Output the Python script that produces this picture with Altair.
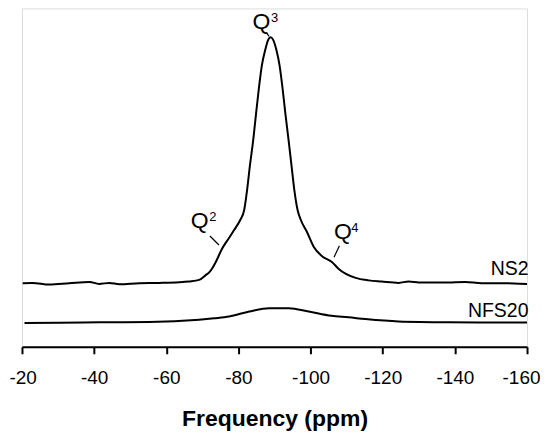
import altair as alt
import pandas as pd

FONT = "Liberation Sans"

# NS2 spectrum (offset trace)
ns2_ppm = [-20.2, -22.9, -27.6, -33.1, -38.7, -41.4, -44.2, -47.0, -52.5, -58.0,
           -63.6, -66.3, -69.1, -71.0, -71.9, -72.8, -73.8, -75.5, -77.4, -78.8,
           -80.5, -81.6, -82.4, -83.2, -84.1, -84.9, -85.7, -86.5, -87.4, -88.2,
           -88.95, -89.7, -90.55, -91.4, -92.2, -93.0, -93.9, -94.7, -95.5, -96.4,
           -97.3, -99.0, -100.9, -103.1, -105.9, -107.8, -112.5, -116.1, -119.7, -124.4,
           -127.2, -130.0, -133.6, -138.3, -142.9, -147.4, -152.1, -156.3, -160.0]
ns2_int = [63.7, 64.0, 62.3, 63.7, 65.0, 63.0, 64.0, 62.7, 63.7, 64.0,
           64.7, 65.5, 67.0, 72.0, 74.5, 79.0, 85.5, 98.5, 109.0, 117.0,
           127.0, 137.0, 157.0, 182.0, 207.0, 234.0, 260.0, 282.0, 297.0, 307.0,
           310.0, 307.0, 297.0, 282.0, 260.0, 234.0, 207.0, 182.0, 157.0, 137.0,
           127.0, 115.0, 100.0, 91.0, 85.0, 78.0, 69.0, 66.5, 65.3, 64.0,
           65.5, 64.5, 64.3, 64.5, 65.0, 63.7, 63.7, 63.5, 63.0]

# NFS20 spectrum
nfs_ppm = [-20.7, -30.4, -41.4, -55.3, -69.1, -73.3, -77.4, -83.0, -88.5, -94.0,
           -99.5, -105.8, -110.5, -115.2, -124.4, -138.3, -152.1, -160.0]
nfs_int = [23.7, 24.0, 24.5, 24.7, 27.0, 28.5, 30.3, 35.3, 38.7, 38.7,
           35.3, 31.0, 29.5, 27.7, 25.3, 24.5, 24.3, 24.3]

x_ticks = [-20, -40, -60, -80, -100, -120, -140, -160]

# Series labels
series_names = ["NS2", "NFS20"]
series_label_ppm = [-160.4, -160.4]
series_label_int = [72.0, 30.3]

# Q annotations
q_letters = ["Q", "Q", "Q"]
q_ppm = [-83.9, -66.8, -106.5]
q_int = [318.0, 119.0, 108.0]
q_sup = ["3", "2", "4"]
q_sup_ppm = [-89.0, -71.9, -111.3]
q_sup_int = [325.5, 125.5, 115.0]
lead_x1 = [-87.7, -72.1, -108.0]
lead_x2 = [-88.5, -74.6, -106.5]
lead_y1 = [315.0, 111.0, 101.3]
lead_y2 = [311.0, 102.0, 89.7]

spec = pd.concat([
    pd.DataFrame({"ppm": ns2_ppm, "intensity": ns2_int, "series": "NS2"}),
    pd.DataFrame({"ppm": nfs_ppm, "intensity": nfs_int, "series": "NFS20"}),
])
labels = pd.DataFrame({"name": series_names, "ppm": series_label_ppm, "intensity": series_label_int})
qdf = pd.DataFrame({"q": q_letters, "ppm": q_ppm, "intensity": q_int,
                    "sup": q_sup, "sppm": q_sup_ppm, "sint": q_sup_int,
                    "x1": lead_x1, "x2": lead_x2, "y1": lead_y1, "y2": lead_y2})

xscale = alt.Scale(domain=[-160, -20], reverse=True, nice=False)
yscale = alt.Scale(domain=[0, 339], nice=False)

lines = alt.Chart(spec).mark_line(color="black", strokeWidth=2, interpolate="monotone", clip=True).encode(
    x=alt.X("ppm:Q", scale=xscale, title="Frequency (ppm)",
            axis=alt.Axis(values=x_ticks, grid=False, domainColor="black", domainWidth=2,
                          tickColor="black", tickWidth=2, tickSize=7, labelFont=FONT,
                          labelFontSize=19, labelColor="black", labelPadding=15,
                          labelExpr="replace(datum.label, '\u2212', '-')",
                          labelFlush=True, labelFlushOffset=13,
                          titleFont=FONT, titleFontSize=23, titleFontWeight="bold",
                          titleColor="black", titlePadding=20)),
    y=alt.Y("intensity:Q", scale=yscale, axis=None),
    detail="series:N",
)

name_text = alt.Chart(labels).mark_text(align="right", baseline="alphabetic", font=FONT,
                                        fontSize=19.5, color="black").encode(
    x=alt.X("ppm:Q", scale=xscale), y=alt.Y("intensity:Q", scale=yscale), text="name:N")

q_text = alt.Chart(qdf).mark_text(align="left", baseline="alphabetic", font=FONT,
                                  fontSize=23, color="black").encode(
    x=alt.X("ppm:Q", scale=xscale), y=alt.Y("intensity:Q", scale=yscale), text="q:N")

sup_text = alt.Chart(qdf).mark_text(align="left", baseline="alphabetic", font=FONT,
                                    fontSize=13, color="black").encode(
    x=alt.X("sppm:Q", scale=xscale), y=alt.Y("sint:Q", scale=yscale), text="sup:N")

leaders = alt.Chart(qdf).mark_rule(color="black", strokeWidth=1.2).encode(
    x=alt.X("x1:Q", scale=xscale), x2="x2:Q",
    y=alt.Y("y1:Q", scale=yscale), y2="y2:Q")

chart = alt.layer(lines, name_text, q_text, sup_text, leaders).properties(
    width=506, height=339,
    autosize=alt.AutoSizeParams(type="none"),
    padding={"left": 14, "top": 0, "right": 14, "bottom": 85},
).configure_view(strokeWidth=0).configure(background="white")

chart.save("out.html", embed_options={"renderer": "svg", "actions": False})
